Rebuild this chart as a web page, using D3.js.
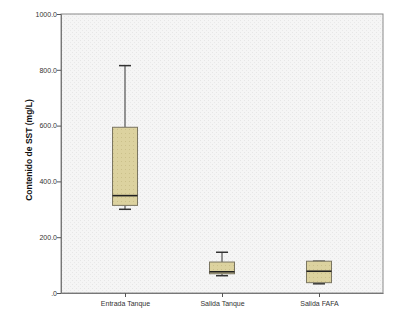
<!DOCTYPE html>
<html><head><meta charset="utf-8">
<script src="https://cdn.jsdelivr.net/npm/d3@7"></script>
<style>body{margin:0;background:#fff}svg{display:block}</style>
</head><body>
<svg id="c" width="399" height="311"></svg>
<script>
const categories = ["Entrada Tanque", "Salida Tanque", "Salida FAFA"];
const whiskerLow = [300, 62, 33];
const q1 = [314, 69, 37];
const median = [349, 76, 78];
const q3 = [594, 111, 114];
const whiskerHigh = [815, 146, 114];
const yTicks = [0, 200, 400, 600, 800, 1000];

const svg = d3.select("#c");
const L = 61, R = 383, T = 14, B = 293;
const defs = svg.append("defs");
const pat = defs.append("pattern").attr("id","bg").attr("width",4).attr("height",4).attr("patternUnits","userSpaceOnUse");
pat.append("rect").attr("width",4).attr("height",4).attr("fill","#f5f5f5");
pat.append("rect").attr("x",0).attr("y",0).attr("width",1).attr("height",1).attr("fill","#e6e6e6");
pat.append("rect").attr("x",2).attr("y",2).attr("width",1).attr("height",1).attr("fill","#e9e9e9");
const pat2 = defs.append("pattern").attr("id","bx").attr("width",4).attr("height",4).attr("patternUnits","userSpaceOnUse");
pat2.append("rect").attr("width",4).attr("height",4).attr("fill","#dcd29f");
pat2.append("rect").attr("x",1).attr("y",1).attr("width",1).attr("height",1).attr("fill","#cbc08a");

const y = d3.scaleLinear().domain([0,1000]).range([B,T]);
const x = d3.scalePoint().domain(categories).range([L,R]).padding(0.66);

svg.append("rect").attr("x",L).attr("y",T).attr("width",R-L).attr("height",B-T)
  .attr("fill","url(#bg)").attr("stroke","#8a8a8a").attr("stroke-width",1);

const yAxis = svg.append("g").attr("transform",`translate(${L},0)`)
  .call(d3.axisLeft(y).tickValues(yTicks).tickSize(4).tickFormat(d => d===0 ? ".0" : d.toFixed(1)));
yAxis.select(".domain").attr("stroke","#777");
yAxis.selectAll(".tick line").attr("stroke","#555");
yAxis.selectAll("text").attr("font-family","Arial, 'Liberation Sans', sans-serif").attr("font-size",7).attr("fill","#333").attr("x",-4);

const xAxis = svg.append("g").attr("transform",`translate(0,${B})`)
  .call(d3.axisBottom(x).tickSize(4).tickSizeOuter(0));
xAxis.select(".domain").attr("stroke","#777");
xAxis.selectAll(".tick line").attr("stroke","#555");
xAxis.selectAll("text").attr("font-family","Arial, 'Liberation Sans', sans-serif").attr("font-size",7).attr("fill","#333").attr("dy","0.9em");

svg.append("text").attr("transform","translate(32,150) rotate(-90)")
  .attr("text-anchor","middle").attr("font-family","Arial, 'Liberation Sans', sans-serif")
  .attr("font-size",8.5).attr("font-weight","bold").attr("fill","#111").text("Contenido de SST (mg/L)");

const bw = 25, cw = 12;
categories.forEach((c,i) => {
  const cx = x(c);
  const g = svg.append("g");
  g.append("line").attr("x1",cx).attr("x2",cx).attr("y1",y(whiskerHigh[i])).attr("y2",y(q3[i])).attr("stroke","#333");
  g.append("line").attr("x1",cx).attr("x2",cx).attr("y1",y(q1[i])).attr("y2",y(whiskerLow[i])).attr("stroke","#333");
  g.append("line").attr("x1",cx-cw/2).attr("x2",cx+cw/2).attr("y1",y(whiskerHigh[i])).attr("y2",y(whiskerHigh[i])).attr("stroke","#333").attr("stroke-width",1.5);
  g.append("line").attr("x1",cx-cw/2).attr("x2",cx+cw/2).attr("y1",y(whiskerLow[i])).attr("y2",y(whiskerLow[i])).attr("stroke","#333").attr("stroke-width",1.5);
  g.append("rect").attr("x",cx-bw/2).attr("y",y(q3[i])).attr("width",bw).attr("height",y(q1[i])-y(q3[i]))
    .attr("fill","url(#bx)").attr("stroke","#7a7560").attr("stroke-width",1);
  g.append("line").attr("x1",cx-bw/2).attr("x2",cx+bw/2).attr("y1",y(median[i])).attr("y2",y(median[i])).attr("stroke","#222").attr("stroke-width",1.6);
});
</script>
</body></html>
